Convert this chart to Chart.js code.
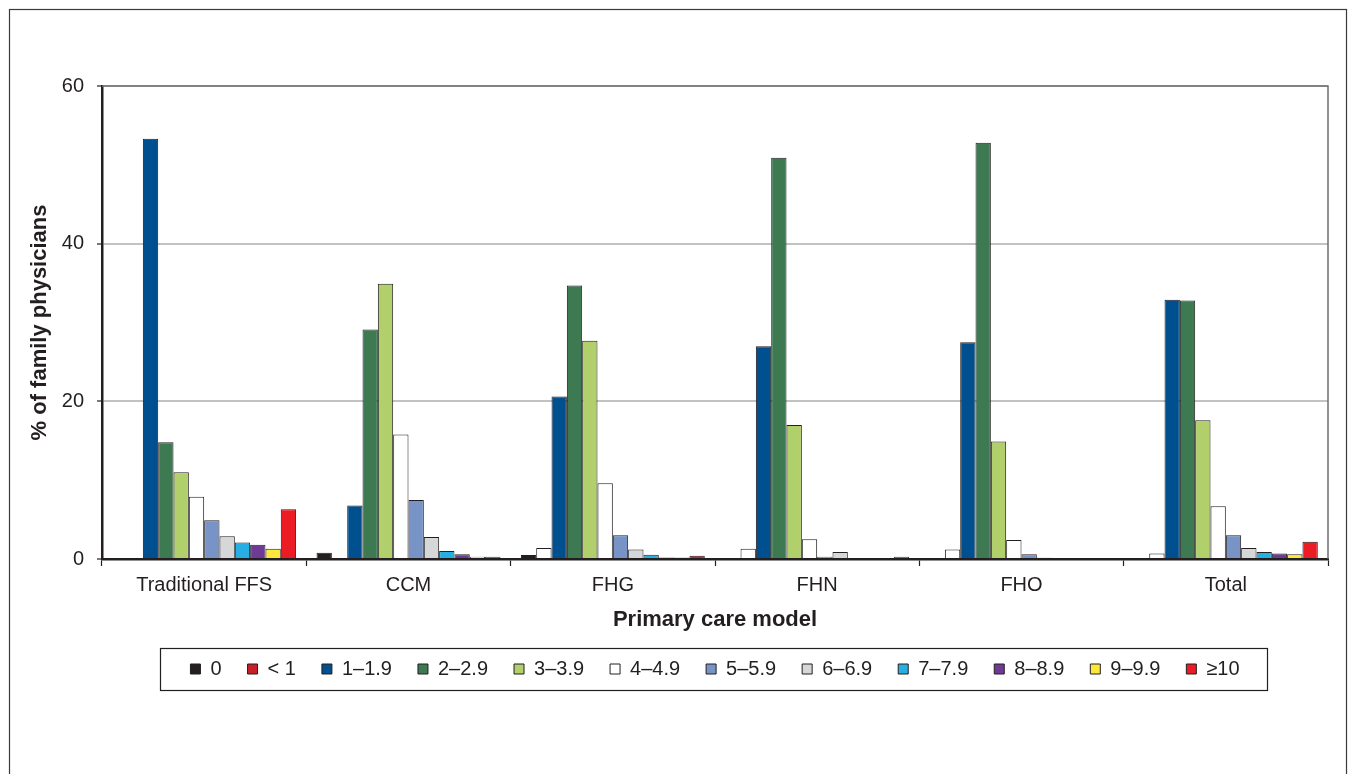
<!DOCTYPE html>
<html lang="en">
<head>
    <meta charset="UTF-8">
    <title>Primary care model chart</title>
    <script src="https://cdn.jsdelivr.net/npm/chart.js"></script>
    <style>
        * { margin: 0; padding: 0; box-sizing: border-box; }
        body { background: #fff; width: 1356px; height: 774px; overflow: hidden; }
        canvas { display: block; }
    </style>
</head>
<body>
<canvas id="chart" width="1356" height="774"></canvas>

<script>
    // categories on the x axis
    const categories = ['Traditional FFS', 'CCM', 'FHG', 'FHN', 'FHO', 'Total'];

    // series labels (legend) and their colours
    const seriesLabels = ['0', '< 1', '1–1.9', '2–2.9', '3–3.9', '4–4.9', '5–5.9', '6–6.9', '7–7.9', '8–8.9', '9–9.9', '≥10'];
    const barColors    = ['#231f20', '#ffffff', '#00508f', '#3d7a52', '#b1cf6b', '#ffffff', '#7893c5', '#d6d7d9', '#27aee3', '#6e3a96', '#ffe63a', '#ec1c24'];
    const legendColors = ['#231f20', '#c8202a', '#00508f', '#3d7a52', '#b1cf6b', '#ffffff', '#7893c5', '#d6d7d9', '#27aee3', '#6e3a96', '#ffe63a', '#ec1c24'];

    // % of family physicians, one array per series
    const s0    = [0,    0.8,  0.5,  0,    0.05, 0.1];
    const sLt1  = [0,    0,    1.4,  1.3,  1.2,  0.7];
    const s1    = [53.3, 6.8,  20.6, 27.0, 27.5, 32.9];
    const s2    = [14.8, 29.1, 34.7, 50.9, 52.8, 32.8];
    const s3    = [11.0, 34.9, 27.7, 17.0, 14.9, 17.6];
    const s4    = [7.9,  15.8, 9.6,  2.5,  2.4,  6.7];
    const s5    = [4.9,  7.5,  3.0,  0.3,  0.6,  3.0];
    const s6    = [2.9,  2.8,  1.2,  0.9,  0.15, 1.4];
    const s7    = [2.1,  1.0,  0.55, 0,    0,    0.9];
    const s8    = [1.8,  0.6,  0.2,  0,    0,    0.7];
    const s9    = [1.3,  0.3,  0.2,  0,    0,    0.6];
    const s10   = [6.3,  0.3,  0.4,  0.3,  0,    2.2];
    const seriesData = [s0, sLt1, s1, s2, s3, s4, s5, s6, s7, s8, s9, s10];

    const yTicks = [0, 20, 40, 60];

    const FONT = "'Liberation Sans', Arial, sans-serif";
    const INK = '#231f20';

    // white page + outer frame, plot box top/right edges, legend frame
    const framePlugin = {
        id: 'frames',
        beforeDraw(chart) {
            const ctx = chart.ctx;
            ctx.save();
            ctx.fillStyle = '#fff';
            ctx.fillRect(0, 0, chart.width, chart.height);
            ctx.strokeStyle = '#3a3a3a';
            ctx.lineWidth = 1.2;
            ctx.strokeRect(9.5, 9.5, 1337, 820);
            ctx.restore();
        },
        afterDraw(chart) {
            const ctx = chart.ctx;
            const a = chart.chartArea;
            ctx.save();
            ctx.strokeStyle = '#6d6e71';
            ctx.lineWidth = 1.5;
            ctx.beginPath();
            ctx.moveTo(a.left, a.top);
            ctx.lineTo(a.right, a.top);
            ctx.lineTo(a.right, a.bottom);
            ctx.stroke();

            const hb = chart.legend.legendHitBoxes;
            if (hb && hb.length) {
                const l = Math.min(...hb.map(h => h.left));
                const r = Math.max(...hb.map(h => h.left + h.width));
                const cy = hb[0].top + hb[0].height / 2;
                ctx.strokeStyle = INK;
                ctx.lineWidth = 1.2;
                ctx.strokeRect(Math.round(l - 30) + 0.5, Math.round(cy - 21) + 0.5, Math.round(r - l + 58), 42);
            }
            ctx.restore();
        }
    };

    const datasets = seriesLabels.map((lab, i) => ({
        label: lab,
        data: seriesData[i],
        backgroundColor: barColors[i],
        borderColor: INK,
        borderWidth: 1,
        categoryPercentage: 0.9,
        barPercentage: 1.0
    }));

    new Chart(document.getElementById('chart'), {
        type: 'bar',
        data: { labels: categories, datasets: datasets },
        plugins: [framePlugin],
        options: {
            responsive: false,
            animation: false,
            layout: { padding: { left: 22, right: 28, top: 86, bottom: 85 } },
            plugins: {
                tooltip: { enabled: false },
                legend: {
                    position: 'bottom',
                    fullSize: false,
                    labels: {
                        color: INK,
                        font: { family: FONT, size: 20 },
                        boxWidth: 10,
                        boxHeight: 10,
                        padding: 26,
                        generateLabels(chart) {
                            const items = Chart.defaults.plugins.legend.labels.generateLabels(chart);
                            items.forEach((it, i) => {
                                it.fillStyle = legendColors[i];
                                it.strokeStyle = INK;
                                it.lineWidth = 1;
                            });
                            return items;
                        }
                    }
                }
            },
            scales: {
                x: {
                    afterFit(s) { s.height = 74; },
                    grid: {
                        offset: true,
                        drawOnChartArea: false,
                        drawTicks: true,
                        tickLength: 7,
                        tickColor: INK,
                        tickWidth: 1.2
                    },
                    border: { color: INK, width: 2.5 },
                    ticks: {
                        color: INK,
                        font: { family: FONT, size: 20 },
                        padding: 7,
                        maxRotation: 0
                    },
                    title: {
                        display: true,
                        text: 'Primary care model',
                        color: INK,
                        font: { family: FONT, size: 22, weight: 'bold' },
                        padding: { top: 0, bottom: 0 }
                    }
                },
                y: {
                    min: 0,
                    max: 60,
                    afterFit(s) { s.width = 80; },
                    afterBuildTicks(s) { s.ticks = yTicks.map(v => ({ value: v })); },
                    grid: {
                        color: '#c2c2c2',
                        lineWidth: 2,
                        drawTicks: true,
                        tickLength: 5,
                        tickColor: INK,
                        tickWidth: 1.2
                    },
                    border: { color: INK, width: 2.5 },
                    ticks: {
                        color: INK,
                        font: { family: FONT, size: 20 },
                        padding: 13
                    },
                    title: {
                        display: true,
                        text: '% of family physicians',
                        color: INK,
                        font: { family: FONT, size: 22, weight: 'bold' },
                        padding: { top: 5, bottom: 0 }
                    }
                }
            }
        }
    });
</script>
</body>
</html>
